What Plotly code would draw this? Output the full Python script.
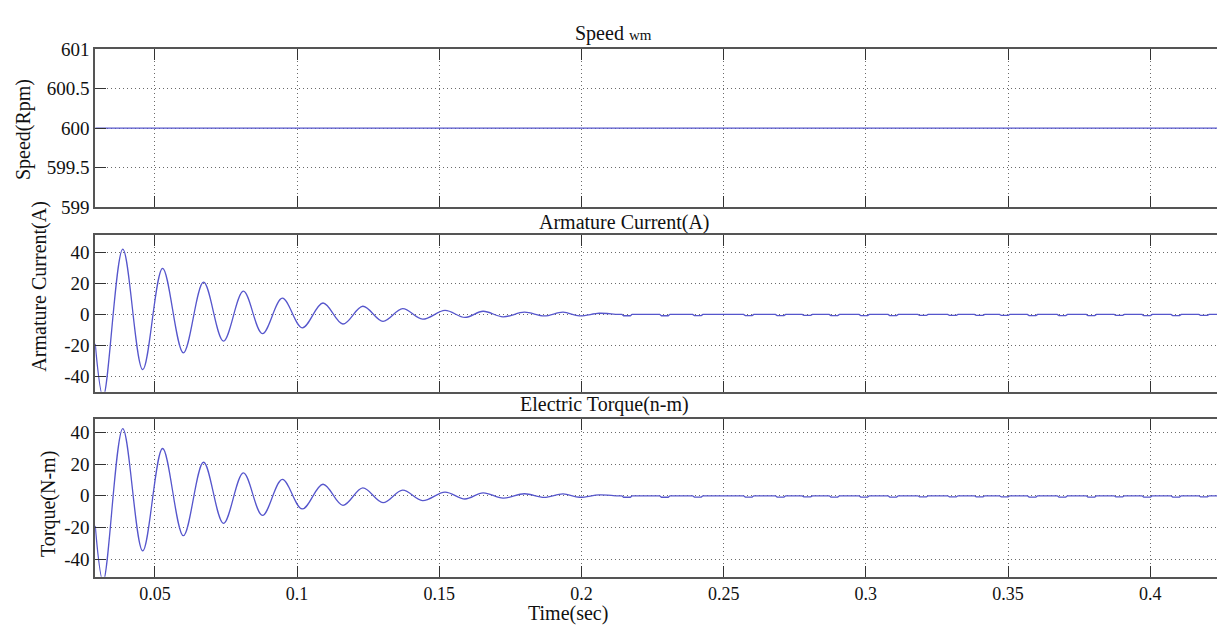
import plotly.graph_objects as go

# ---------------- data ----------------
x_ticks = [0.05, 0.1, 0.15, 0.2, 0.25, 0.3, 0.35, 0.4]
x_tick_labels = ["0.05", "0.1", "0.15", "0.2", "0.25", "0.3", "0.35", "0.4"]

speed_t = [0.029, 0.4284]
speed_v = [600, 600]
speed_ticks = [599, 599.5, 600, 600.5, 601]
speed_tick_labels = ["599", "599.5", "600", "600.5", "601"]

# extrema of the damped oscillation (armature current, A)
cur_t = [0.0290, 0.0318, 0.0387, 0.0457, 0.0527, 0.0600, 0.0671, 0.0741,
         0.0811, 0.0878, 0.0948, 0.1018, 0.1091, 0.1161, 0.1231, 0.1302,
         0.1371, 0.1441, 0.1520, 0.1590, 0.1654, 0.1724, 0.1799, 0.1869,
         0.1935, 0.1993, 0.2062, 0.2120]
cur_v = [-19, -53, 42.0, -35.6, 29.6, -24.8, 20.7, -17.2,
         14.9, -12.4, 10.4, -8.7, 7.3, -6.2, 5.2, -4.5,
         3.7, -3.1, 2.5, -2.0, 2.0, -1.6, 1.4, -1.0,
         1.4, -1.0, 0.7, 0.0]

# extrema of the electric torque (N-m)
tq_t = cur_t
tq_v = [-19, -54, 42.5, -34.8, 29.9, -25.2, 21.2, -17.4,
        14.5, -12.4, 10.4, -8.3, 7.3, -6.0, 5.0, -4.3,
        3.6, -3.0, 2.4, -2.0, 1.9, -1.5, 1.3, -1.0,
        1.2, -0.9, 0.6, 0.0]

# small notches in the steady-state tail
notch_t = [0.2160, 0.2293, 0.2409, 0.2588, 0.2700, 0.2794, 0.2889, 0.2994,
           0.3096, 0.3201, 0.3306, 0.3400, 0.3488, 0.3586, 0.3691, 0.3793,
           0.3891, 0.3989, 0.4091, 0.4189]
notch_depth = [-0.9, -0.9, -0.8, -0.8, -0.8, -0.6, -0.8, -0.8,
               -0.8, -0.7, -0.7, -0.7, -0.7, -0.8, -0.8, -0.8,
               -0.7, -0.8, -0.8, -0.7]
tail_end = 0.4284

y_ticks = [-40, -20, 0, 20, 40]
y_tick_labels = ["-40", "-20", "0", "20", "40"]

# ---------------- styling ----------------
W, H = 1225, 625
LINE = "#5656cc"
FONT = "Liberation Serif"
x_left, x_right = 87.3 / W, 1.0


def ydom(top_px, bot_px):
    return [1 - bot_px / H, 1 - top_px / H]


def tail_points(t_list, d_list, start, end):
    xs, ys = [start], [0.0]
    for c, d in zip(t_list, d_list):
        xs += [c - 0.0018, c - 0.0012, c + 0.0012, c + 0.0018]
        ys += [0.0, d, d, 0.0]
    xs.append(end)
    ys.append(0.0)
    return xs, ys


fig = go.Figure()

fig.add_trace(go.Scatter(x=speed_t, y=speed_v, mode="lines",
                         line=dict(color=LINE, width=1.3),
                         xaxis="x", yaxis="y", showlegend=False))

for t_ext, v_ext, ax_x, ax_y in [(cur_t, cur_v, "x2", "y2"), (tq_t, tq_v, "x3", "y3")]:
    fig.add_trace(go.Scatter(x=t_ext, y=v_ext, mode="lines",
                             line=dict(color=LINE, width=1.3, shape="spline", smoothing=1.0),
                             xaxis=ax_x, yaxis=ax_y, showlegend=False))
    tx, ty = tail_points(notch_t, notch_depth, t_ext[-1], tail_end)
    fig.add_trace(go.Scatter(x=tx, y=ty, mode="lines",
                             line=dict(color=LINE, width=1.3),
                             xaxis=ax_x, yaxis=ax_y, showlegend=False))

common_axis = dict(
    showline=True, linecolor="#555555", linewidth=1.5, mirror="ticks",
    ticks="inside", ticklen=11, tickwidth=1.3, tickcolor="#333333",
    showgrid=True, gridcolor="rgba(90,90,90,0.9)", gridwidth=1, griddash="1px,3px",
    zeroline=False, tickfont=dict(family=FONT, size=19, color="#111111"),
)

xr = [0.02898, 0.4284]
doms = [ydom(32.3, 195.7), ydom(224.3, 386.7), ydom(415.0, 578.3)]

layout = dict(
    width=W, height=H,
    margin=dict(l=0, r=0, t=0, b=0),
    paper_bgcolor="white", plot_bgcolor="white",
    font=dict(family=FONT, size=19, color="#111111"),
)
for i, name in enumerate(["", "2", "3"]):
    layout["xaxis" + name] = dict(common_axis, domain=[x_left, x_right], range=xr,
                                  tickvals=x_ticks, ticktext=x_tick_labels,
                                  tickfont=dict(family=FONT, size=18, color="#111111"),
                                  showticklabels=(i == 2), anchor="y" + name)
layout["yaxis"] = dict(common_axis, domain=doms[0], range=[599, 601],
                       tickvals=speed_ticks, ticktext=speed_tick_labels, anchor="x")
layout["yaxis2"] = dict(common_axis, domain=doms[1], range=[-49.75, 51.2],
                        tickvals=y_ticks, ticktext=y_tick_labels, anchor="x2")
layout["yaxis3"] = dict(common_axis, domain=doms[2], range=[-51.2, 48.5],
                        tickvals=y_ticks, ticktext=y_tick_labels, anchor="x3")
fig.update_layout(**layout)


def ann(text, x_px, y_px, xanchor="left", angle=0, size=20):
    fig.add_annotation(text=text, x=x_px / W, y=1 - y_px / H, xref="paper", yref="paper",
                       xanchor=xanchor, yanchor="middle", textangle=angle,
                       showarrow=False, borderpad=0,
                       font=dict(family=FONT, size=size, color="#111111"))


ann("Speed <span style='font-size:15px'>wm</span>", 567, 16)
ann("Armature Current(A)", 531, 212)
ann("Electric Torque(n-m)", 512, 400)
ann("Time(sec)", 520, 616, size=20)
ann("Speed(Rpm)", 15, 115, xanchor="center", angle=-90)
ann("Armature Current(A)", 32, 277, xanchor="center", angle=-90)
ann("Torque(N-m)", 40, 503, xanchor="center", angle=-90)

fig.write_html("out.html")
